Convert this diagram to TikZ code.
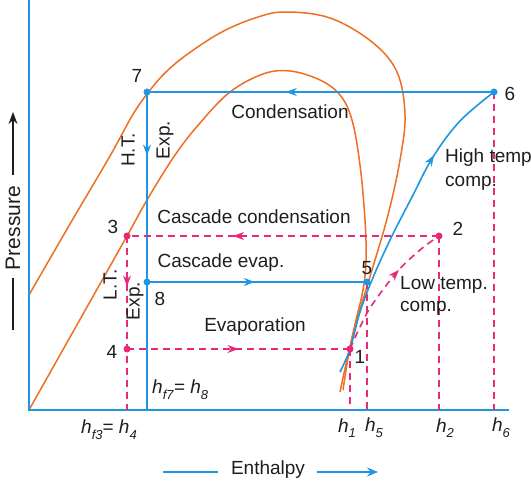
\documentclass[tikz,border=0pt]{standalone}
\usepackage{fontspec}
\setmainfont{Liberation Sans}
\usetikzlibrary{arrows.meta,decorations.markings}
\definecolor{cblue}{RGB}{30,150,225}
\definecolor{corange}{RGB}{238,110,35}
\definecolor{cpink}{RGB}{232,40,120}
\definecolor{ctext}{RGB}{30,30,30}
\newcommand{\hsub}[2]{\textit{#1}\raisebox{-0.3em}{\fontsize{13}{13}\selectfont\textit{#2}}}
\begin{document}
\begin{tikzpicture}[x=1pt,y=-1pt,
  lbl/.style={text=ctext,font=\fontsize{19}{22}\selectfont,inner sep=0pt},
  bl/.style={cblue,line width=1.6pt},
  pk/.style={cpink,line width=1.6pt,dash pattern=on 7pt off 5pt},
  dome/.style={corange,line width=1.5pt},
  midarr/.style={decoration={markings,mark=at position #1 with {\arrow{Stealth[length=11pt,width=8pt]}}},postaction={decorate}},
  bdot/.style={cblue},
  pdot/.style={cpink},
]
\useasboundingbox (0,0) rectangle (531,484);
% points
\coordinate (c1) at (350,349);
\coordinate (c2) at (439,236);
\coordinate (c3) at (127,236);
\coordinate (c4) at (127,349);
\coordinate (c5) at (367,282);
\coordinate (c6) at (494,92);
\coordinate (c7) at (147,92);
\coordinate (c8) at (147,282);
\coordinate (o) at (29,410);
\coordinate (ytop) at (29,0);
\coordinate (xend) at (509,410);
\coordinate (b1) at (350,410);
\coordinate (b3) at (127,410);
\coordinate (b5) at (367,410);
\coordinate (b2) at (439,410);
\coordinate (b6) at (494,410);
\coordinate (b7) at (147,410);
\coordinate (hs) at (340,372);
% domes
\draw[dome] plot[smooth,tension=0.6] coordinates {(29,295) (70,224) (110,156) (132,116) (147,94) (164,74) (185,56) (220,33) (255,18) (285,12) (330,18) (372,42) (397,72) (405,115) (400,160) (388,215) (372,270) (357,320) (347,360) (340,392)};
\draw[dome] plot[smooth,tension=0.6] coordinates {(o) (78,323) (127,236) (147,200) (175,155) (200,123) (230,92) (263,74) (290,71) (320,80) (340,95) (352,120) (360,165) (365,220) (366,260) (363,290) (356,320) (349,352) (343,390)};
% axes
\draw[bl] (ytop) -- (o) -- (xend);
% blue cycle
\draw[bl,midarr=0.6] (c6) -- (c7);
\draw[bl,midarr=0.2] (c7) -- (b7);
\draw[bl,midarr=0.49] (c8) -- (c5);
\draw[bl,midarr=0.73] plot[smooth,tension=0.6] coordinates {(hs) (c1) (360,312) (372,280) (390,240) (412,197) (433,157) (460,121) (c6)};
% pink cycle
\draw[pk,midarr=0.66] (c2) -- (c3);
\draw[pk,midarr=0.29] (c3) -- (b3);
\draw[pk,midarr=0.5] (c4) -- (c1);
\draw[pk,midarr=0.64] plot[smooth,tension=0.6] coordinates {(c1) (360,327) (372,305) (397,272) (420,250) (c2)};
\draw[pk] (c1) -- (b1);
\draw[pk] (c5) -- (b5);
\draw[pk] (c2) -- (b2);
\draw[pk] (c6) -- (b6);
% dots
\fill[bdot] (c5) circle (3.5pt);
\fill[bdot] (c6) circle (3.5pt);
\fill[bdot] (c7) circle (3.5pt);
\fill[bdot] (c8) circle (3.5pt);
\fill[pdot] (c1) circle (3.5pt);
\fill[pdot] (c2) circle (3.5pt);
\fill[pdot] (c3) circle (3.5pt);
\fill[pdot] (c4) circle (3.5pt);
% labels
\node[lbl] (l7) at (137,76) {7};
\node[lbl] (l6) at (510,94) {6};
\node[lbl] (l5) at (367,268) {5};
\node[lbl] (l8) at (160,299) {8};
\node[lbl] (l3) at (113,227) {3};
\node[lbl] (l2) at (458,229) {2};
\node[lbl] (l4) at (112,352) {4};
\node[lbl] (l1) at (360,357) {1};
\node[lbl] (tcond) at (290,112) {Condensation};
\node[lbl,rotate=90] (tht) at (128,150) {H.T.};
\node[lbl,rotate=90] (thte) at (165,140) {Exp.};
\node[lbl,rotate=90] (tlt) at (110,285) {L.T.};
\node[lbl,rotate=90] (tlte) at (135,301) {Exp.};
\node[lbl] (tcc) at (254,217) {Cascade condensation};
\node[lbl] (tce) at (221,263) {Cascade evap.};
\node[lbl] (tev) at (255,327) {Evaporation};
\node[lbl,anchor=west] (thtc) at (445,158) {High temp};
\node[lbl,anchor=west] (thtc2) at (445,183) {comp.};
\node[lbl,anchor=west] (tltc) at (400,285) {Low temp.};
\node[lbl,anchor=west] (tltc2) at (400,308) {comp.};
\node[lbl,anchor=west] (hf7) at (152,390) {\hsub{h}{f7}= \hsub{h}{8}};
\node[lbl] (hf3) at (109,430) {\hsub{h}{f3}= \hsub{h}{4}};
\node[lbl] (h1) at (347,428) {\hsub{h}{1}};
\node[lbl] (h5) at (374,428) {\hsub{h}{5}};
\node[lbl] (h2) at (445,428) {\hsub{h}{2}};
\node[lbl] (h6) at (501,428) {\hsub{h}{6}};
% enthalpy
\coordinate (e1) at (163,472);
\coordinate (e2) at (218,472);
\coordinate (e3) at (317,472);
\coordinate (e4) at (378,472);
\draw[cblue,line width=1.4pt] (e1) -- (e2);
\node[lbl] (tent) at (268,470) {Enthalpy};
\draw[cblue,line width=1.4pt,-{Stealth[length=11pt,width=9pt]}] (e3) -- (e4);
% pressure
\coordinate (p1) at (13,175);
\coordinate (p2) at (13,112);
\coordinate (p3) at (13,278);
\coordinate (p4) at (13,330);
\draw[ctext,line width=1.3pt,-{Stealth[length=12pt,width=9pt]}] (p1) -- (p2);
\node[lbl,rotate=90,font=\fontsize{21}{24}\selectfont] (tpr) at (13,228) {Pressure};
\draw[ctext,line width=1.3pt] (p3) -- (p4);
\end{tikzpicture}
\end{document}
